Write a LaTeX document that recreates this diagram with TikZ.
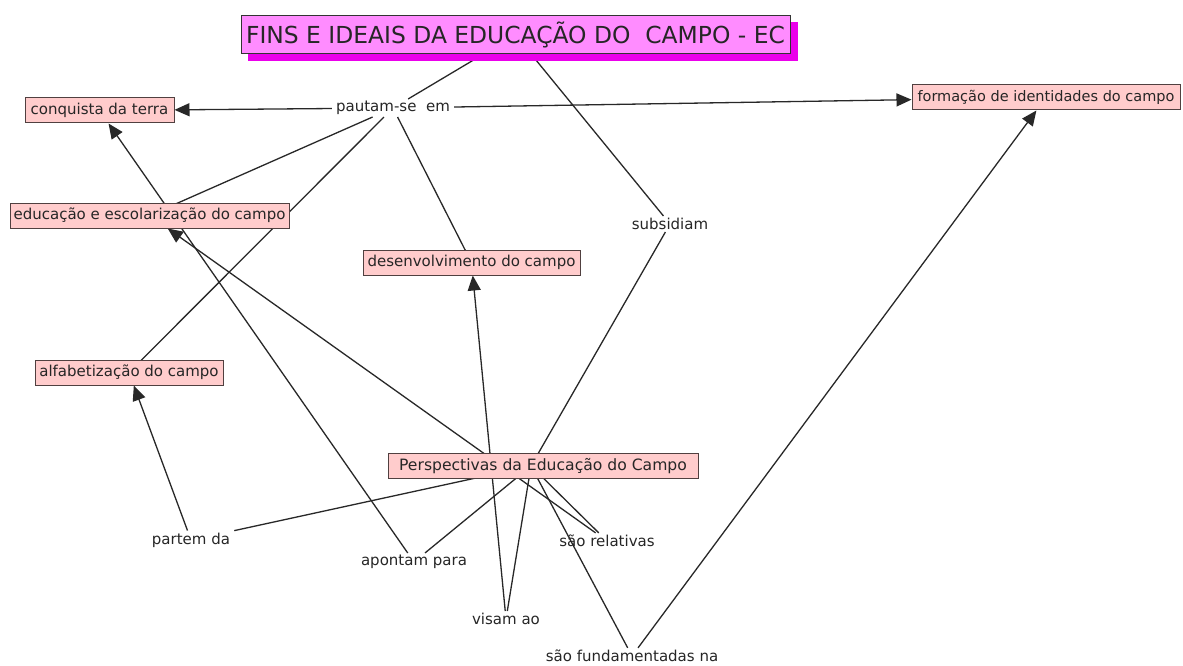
\documentclass[tikz,border=0pt]{standalone}
\usepackage{fontspec}
\setmainfont{DejaVu Sans}
\usetikzlibrary{arrows.meta}
\definecolor{boxfill}{RGB}{255,204,204}
\definecolor{boxline}{RGB}{80,64,64}
\definecolor{titlefill}{RGB}{255,140,255}
\definecolor{titleshadow}{RGB}{235,0,235}
\definecolor{linkc}{RGB}{40,40,40}
\pgfdeclarelayer{bg}
\pgfdeclarelayer{sh}
\pgfsetlayers{bg,sh,main}
\begin{document}
\begin{tikzpicture}[x=1pt,y=-1pt,
  concept/.style={draw=boxline, line width=1pt, fill=boxfill, minimum height=25pt,
    inner sep=0pt, font=\fontsize{15}{18}\selectfont, text=black!85},
  titlebox/.style={draw=black!80, line width=1pt, fill=titlefill, minimum height=38pt,
    inner sep=0pt, font=\fontsize{23.4}{28}\selectfont, text=black!85},
  linkp/.style={inner xsep=4pt, inner ysep=2pt, font=\fontsize{15}{18}\selectfont, text=black!85},
  conn/.style={draw=linkc, line width=1.3pt},
  arr/.style={conn, -{Triangle[length=15pt,width=13pt]}}]
\useasboundingbox (0,0) rectangle (1183,666);

% concepts
\node[titlebox, minimum width=549pt] (title) at (515.5,35) {FINS E IDEAIS DA EDUCAÇÃO DO~~CAMPO - EC};
\node[concept, minimum width=149pt] (conq) at (99.5,110.5) {conquista da terra};
\node[concept, minimum width=279pt] (educ) at (149.5,215.5) {educação e escolarização do campo};
\node[concept, minimum width=268pt, font=\fontsize{14.5}{18}\selectfont] (form) at (1046,97.5) {formação de identidades do campo};
\node[concept, minimum width=217pt] (desenv) at (471.5,262.5) {desenvolvimento do campo};
\node[concept, minimum width=188pt] (alfab) at (129,372.5) {alfabetização do campo};
\node[concept, minimum width=310pt, font=\fontsize{15.6}{18}\selectfont] (persp) at (543,466) {Perspectivas da Educação do Campo};
\coordinate (pc) at ([xshift=-12pt]persp.center);

% linking phrases
\node[linkp] (pautam) at (393,108) {pautam-se~~em};
\node[linkp] (subs) at (670,224) {subsidiam};
\node[linkp] (partem) at (191,540) {partem da};
\node[linkp] (apontam) at (414,562) {apontam para};
\node[linkp] (relat) at (607,541) {são relativas};
\node[linkp] (visam) at (506,619) {visam ao};
\node[linkp] (fund) at (632,656) {são fundamentadas na};

\begin{pgfonlayer}{sh}
\fill[titleshadow] ([shift={(7,7)}]title.south west) rectangle ([shift={(7,7)}]title.north east);
\end{pgfonlayer}

\begin{pgfonlayer}{bg}
\fill[white] (0,0) rectangle (1183,666);
\draw[conn] (title) -- (pautam);
\draw[conn] (title) -- (subs);
\draw[arr] (pautam) -- (conq);
\draw[arr] (pautam) -- (form);
\draw[conn] (pautam) -- (educ.center);
\draw[conn] (pautam) -- (alfab.center);
\draw[conn] (pautam) -- (desenv.center);
\draw[conn] (subs) -- (pc);
\draw[conn] (pc) -- (partem);
\draw[arr] (partem) -- (alfab);
\draw[conn] (pc) -- (apontam);
\draw[arr] (apontam) -- (conq);
\draw[conn] (pc) -- (relat);
\draw[arr] (relat) -- (educ);
\draw[conn] (pc) -- (visam);
\draw[arr] (visam) -- (desenv);
\draw[conn] (pc) -- (fund);
\draw[arr] (fund) -- (form);
\end{pgfonlayer}
\end{tikzpicture}
\end{document}
